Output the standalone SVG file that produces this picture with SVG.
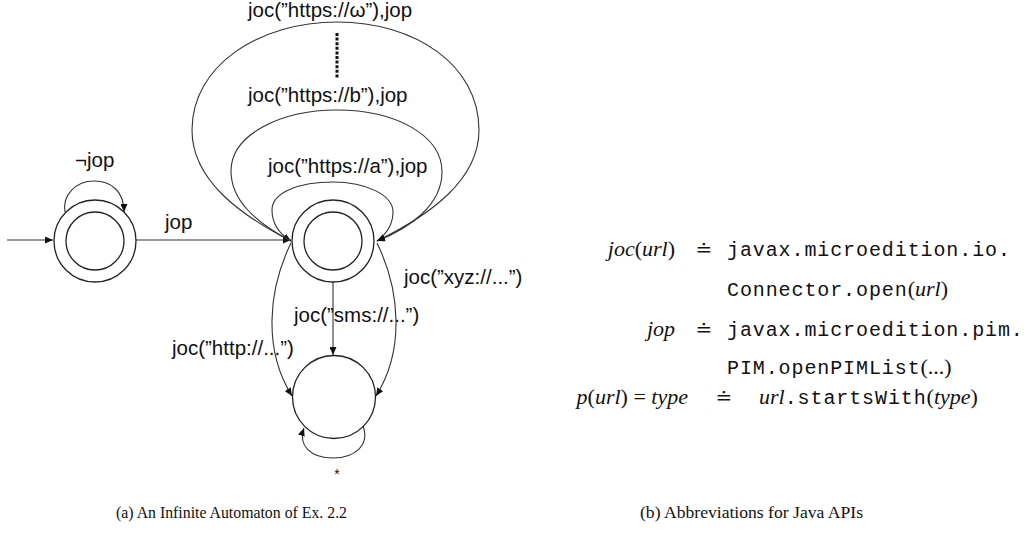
<svg xmlns="http://www.w3.org/2000/svg" width="1029" height="535" viewBox="0 0 1029 535">
<style>
.lbl{font-family:"Liberation Sans",Arial,sans-serif;font-size:20.5px;fill:#111}
.st{fill:none;stroke:#222;stroke-width:1.3}
.ea{fill:none;stroke:#333;stroke-width:1.1;marker-end:url(#ah)}
.mi{font-family:"Liberation Serif","Times New Roman",serif;font-style:italic;font-size:22px;fill:#111}
.rm{font-style:normal}
.tt{font-family:"Liberation Mono","Courier New",monospace;font-size:20px;letter-spacing:0.9px;font-style:normal;fill:#111}
.eq{font-family:"DejaVu Serif","Liberation Serif",serif;font-size:20px;fill:#111}
.cap{font-family:"Liberation Serif","Times New Roman",serif;font-size:17.5px;fill:#111}
</style>
<defs>
<marker id="ah" markerUnits="userSpaceOnUse" markerWidth="9" markerHeight="7" refX="8" refY="3.5" orient="auto">
<path d="M0,0 L8,3.5 L0,7 z" fill="#111"/>
</marker>
</defs>
<g id="connectors">
<line class="ea" x1="7" y1="240" x2="53" y2="240"/>
<path class="ea" d="M65,212 C62,195 76,181 94,181 C112,181 124,192 124,212"/>
<line class="ea" x1="136" y1="240" x2="291" y2="240"/>
<path class="ea" d="M377,241 C385,235 393,225 393,212 C393,195 366,182 333,182 C300,182 272,192 272,210 C272,222 278,233 291,241"/>
<path class="ea" d="M291,241 C255,222 231,200 231,171 C231,135 280,110 337,110 C395,110 442,135 442,172 C442,205 410,228 377,241"/>
<path class="ea" d="M291,241 C240,215 192,180 192,130 C192,65 260,22 337,22 C415,22 479,65 479,130 C479,180 430,215 377,241"/>
<line class="ea" x1="333" y1="282" x2="333" y2="355"/>
<path class="ea" d="M291,243 C268,290 263,350 292,396"/>
<path class="ea" d="M377,243 C400,290 405,350 376,396"/>
<path class="ea" d="M363,426 C370,445 355,458 333,458 C310,458 298,445 304,428"/>
<line x1="337" y1="33" x2="337" y2="78" stroke="#111" stroke-width="3" stroke-dasharray="3 1.6"/>
</g>
<g id="state1">
<circle class="st" cx="95" cy="241" r="41"/>
<circle class="st" cx="95" cy="241" r="29"/>
</g>
<g id="state2">
<circle class="st" cx="333" cy="241" r="41"/>
<circle class="st" cx="333" cy="241" r="29"/>
</g>
<g id="state3">
<circle class="st" cx="334" cy="397" r="41.5"/>
</g>
<g id="labels">
<text class="lbl" x="75" y="167">¬jop</text>
<text class="lbl" x="165" y="229">jop</text>
<text class="lbl" x="248" y="17">joc(”https://ω”),jop</text>
<text class="lbl" x="248" y="102">joc(”https://b”),jop</text>
<text class="lbl" x="268" y="173">joc(”https://a”),jop</text>
<text class="lbl" x="404" y="284">joc(”xyz://...”)</text>
<text class="lbl" x="294" y="322">joc(”sms://...”)</text>
<text class="lbl" x="172" y="355">joc(”http://...”)</text>
<text class="lbl" x="337" y="479" text-anchor="middle" style="font-size:14px">*</text>
</g>
<g id="abbreviations">
<text class="mi" x="675" y="256" text-anchor="end">joc<tspan class="rm">(</tspan>url<tspan class="rm">)</tspan></text>
<text class="eq" x="704" y="256" text-anchor="middle">≐</text>
<text class="tt" x="727" y="256">javax.microedition.io.</text>
<text class="mi" x="727" y="296"><tspan class="tt">Connector.open</tspan><tspan class="rm">(</tspan>url<tspan class="rm">)</tspan></text>
<text class="mi" x="675" y="336" text-anchor="end">jop</text>
<text class="eq" x="704" y="336" text-anchor="middle">≐</text>
<text class="tt" x="727" y="336">javax.microedition.pim.</text>
<text class="mi" x="727" y="374"><tspan class="tt">PIM.openPIMList</tspan><tspan class="rm">(...)</tspan></text>
<text class="mi" x="688" y="404" text-anchor="end">p<tspan class="rm">(</tspan>url<tspan class="rm">) = </tspan>type</text>
<text class="eq" x="724" y="404" text-anchor="middle">≐</text>
<text class="mi" x="759" y="404">url<tspan class="tt">.startsWith</tspan><tspan class="rm">(</tspan>type<tspan class="rm">)</tspan></text>
</g>
<g id="captions">
<text class="cap" x="116" y="518" textLength="231" lengthAdjust="spacingAndGlyphs">(a) An Infinite Automaton of Ex. 2.2</text>
<text class="cap" x="640" y="518" textLength="223" lengthAdjust="spacingAndGlyphs">(b) Abbreviations for Java APIs</text>
</g>
</svg>
